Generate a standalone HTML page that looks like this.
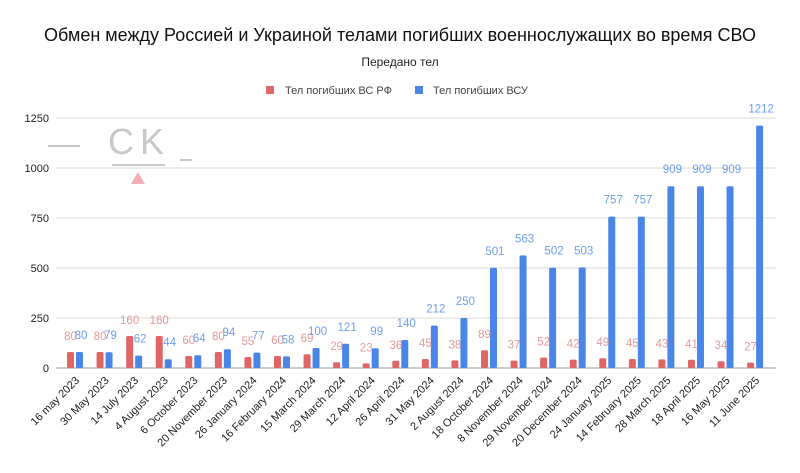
<!DOCTYPE html>
<html><head><meta charset="utf-8"><style>
body{margin:0;background:#fff;}
svg{display:block;font-family:"Liberation Sans",sans-serif;}
</style></head><body>
<svg id="s" width="800" height="473" viewBox="0 0 800 473">
<rect width="800" height="473" fill="#fff"/>
<text x="400" y="41" text-anchor="middle" font-size="18" fill="#111">Обмен между Россией и Украиной телами погибших военнослужащих во время СВО</text>
<text x="400" y="66" text-anchor="middle" font-size="12" fill="#222">Передано тел</text>
<rect x="266" y="86" width="8" height="8" fill="#e06666"/>
<text x="285" y="94" font-size="11" fill="#444">Тел погибших ВС  РФ</text>
<rect x="415" y="86" width="8" height="8" fill="#4a86e8"/>
<text x="433" y="94" font-size="11" fill="#444">Тел погибших ВСУ</text>
<g id="g"></g>
<g fill="none" stroke="#c8c8cc" stroke-width="2">
<line x1="48" y1="146" x2="80" y2="146"/><line x1="112" y1="165" x2="165" y2="165"/><line x1="180" y1="160" x2="192" y2="160"/>
</g>
<text x="108" y="154" font-size="36" fill="#c8c8cc" letter-spacing="6">CK</text>
<polygon points="131,184 138,172 145,184" fill="#f4b0b8"/>
</svg>
<script>
const dates=["16 may 2023","30 May 2023","14 July 2023","4 August 2023","6 October 2023","20 November 2023","26 January 2024","16 February 2024","15 March 2024","29 March 2024","12 April 2024","26 April 2024","31 May 2024","2 August 2024","18 October 2024","8 November 2024","29 November 2024","20 December 2024","24 January 2025","14 February 2025","28 March 2025","18 April 2025","16 May 2025","11 June 2025"];
const r=[80,80,160,160,60,80,55,60,69,29,23,36,45,38,89,37,52,42,49,45,43,41,34,27];
const b=[80,79,62,44,64,94,77,58,100,121,99,140,212,250,501,563,502,503,757,757,909,909,909,1212];
let h='';
const y0=368,k=0.2;
for(let v=0;v<=1250;v+=250){const y=y0-v*k;
h+=`<line x1="56" y1="${y}" x2="776" y2="${y}" stroke="${v?'#d9d9d9':'#999'}" stroke-width="1"/>`;
h+=`<text x="49" y="${y+4}" text-anchor="end" font-size="11" fill="#222">${v}</text>`;}
for(let i=0;i<24;i++){const c=75+i*29.57;
const hr=r[i]*k,hb=b[i]*k;
h+=`<rect x="${c-8}" y="${y0-hr}" width="7" height="${hr}" rx="1.5" fill="#e06666"/>`;
h+=`<rect x="${c+1}" y="${y0-hb}" width="7" height="${hb}" rx="1.5" fill="#4a86e8"/>`;
h+=`<text x="${c-4.5}" y="${y0-hr-12}" text-anchor="middle" font-size="11.5" fill="#e69999">${r[i]}</text>`;
h+=`<text x="${c+6}" y="${y0-hb-13}" text-anchor="middle" font-size="11.5" fill="#6d9eeb">${b[i]}</text>`;
h+=`<text transform="translate(${c+5},381) rotate(-45)" text-anchor="end" font-size="11" fill="#222">${dates[i]}</text>`;}
document.getElementById('g').innerHTML=h;
</script>
</body></html>
